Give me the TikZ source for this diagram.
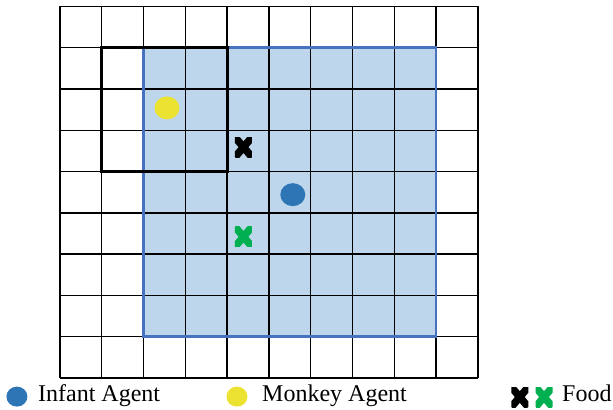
\documentclass[tikz,border=0pt]{standalone}
\usepackage{fontspec}
\setmainfont{Liberation Serif}
\usetikzlibrary{positioning,shapes.geometric}
\definecolor{gridBlue}  {RGB}{189, 214, 236}
\definecolor{edgeBlue}  {RGB}{ 70, 114, 190}
\definecolor{infBlue}   {RGB}{ 46, 117, 182}
\definecolor{monYellow} {RGB}{236, 226,  50}
\definecolor{foodGreen} {RGB}{  0, 176,  80}
\tikzset{
  agent/.style={ellipse,inner sep=0pt,minimum width=25pt,minimum height=23pt},
  legagent/.style={ellipse,inner sep=0pt,minimum width=21pt,minimum height=20pt},
  food/.style={inner sep=0pt,minimum width=17pt,minimum height=20pt,
    path picture={
      \draw[#1,line width=7.5pt]
        (path picture bounding box.south west) -- (path picture bounding box.north east)
        (path picture bounding box.north west) -- (path picture bounding box.south east);
    }},
  legtext/.style={anchor=base west,inner sep=0pt,font=\fontsize{24}{28}\selectfont}
}

\begin{document}
\begin{tikzpicture}[x=41.8pt,y=41.3pt]
        \useasboundingbox (-1.435,-0.751) rectangle (13.230,9.153);
        % Zona
        \fill[gridBlue] (2,1) rectangle (9,8);
        % Grelha
        \foreach \x in {0,1,...,10}{
          \draw[black,line width=1.4pt] (\x,0) -- (\x,9);
        }
        \foreach \y in {0,1,...,9}{
          \draw[black,line width=1.4pt] (0,\y) -- (10,\y);
        }
        \draw[edgeBlue,line width=2.6pt] (2,1) rectangle (9,8);
        \draw[black,line width=3pt] (1,5) rectangle (4,8);
        % Agentes
        \node[agent,fill=monYellow] (monkey) at (2.56,6.54) {};
        \node[agent,fill=infBlue] (infant) at (5.57,4.44) {};
        \node[food=black] (foodA) at (4.39,5.59) {};
        \node[food=foodGreen] (foodB) at (4.39,3.42) {};
        % Legenda
        \node[legagent,fill=infBlue] (legInf) at (-1.03,-0.45) {};
        \node[legtext] (txtInf) at (-0.526,-0.574) {Infant Agent};
        \node[legagent,fill=monYellow] (legMon) at (4.234,-0.45) {};
        \node[legtext] (txtMon) at (4.833,-0.574) {Monkey Agent};
        \node[food=black] (legFoodA) at (11.00,-0.46) {};
        \node[food=foodGreen] (legFoodB) at (11.58,-0.46) {};
        \node[legtext] (txtFood) at (12.01,-0.574) {Food};
      \end{tikzpicture}
\end{document}
